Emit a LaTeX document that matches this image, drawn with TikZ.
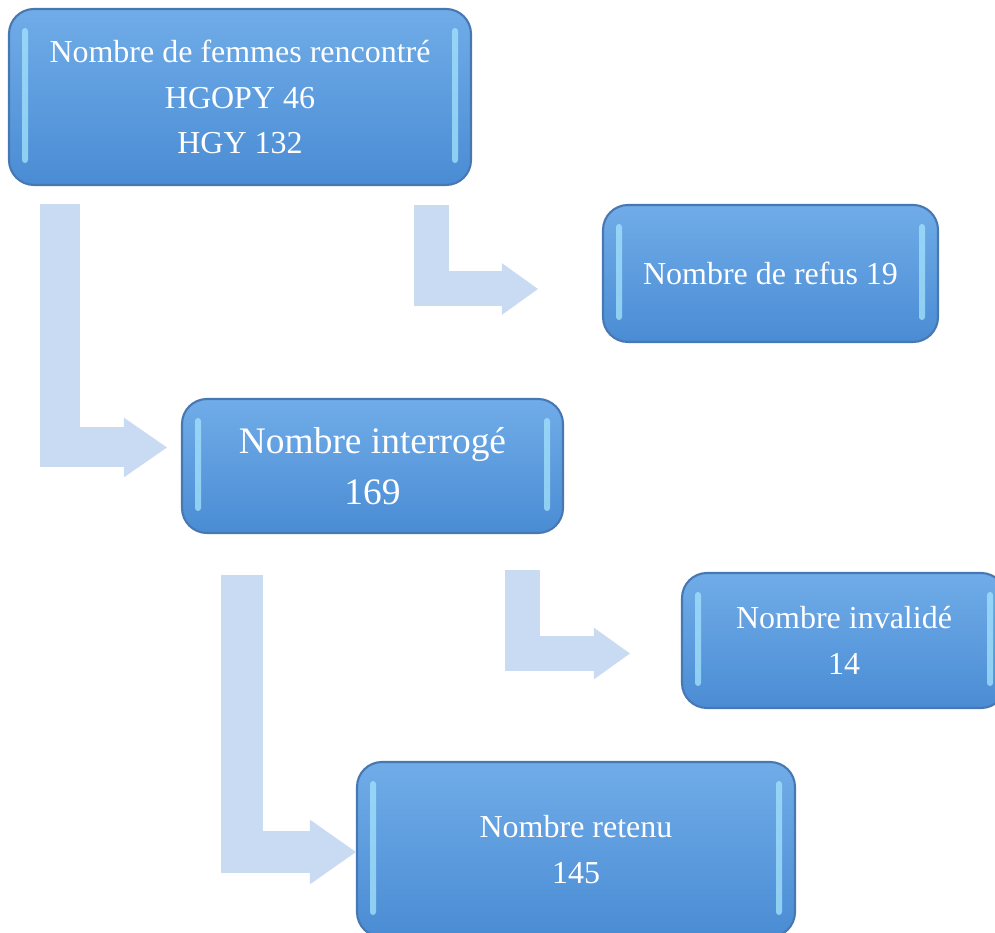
\documentclass[tikz,border=0pt]{standalone}
\usepackage{fontspec}
\setmainfont{Liberation Serif}
\usepackage{xcolor}
\definecolor{boxtop}{RGB}{112,172,232}
\definecolor{boxbottom}{RGB}{74,140,212}
\definecolor{boxline}{RGB}{72,120,178}
\definecolor{boxshine}{RGB}{165,228,252}
\definecolor{arrowblue}{RGB}{201,219,242}
\usetikzlibrary{arrows.meta, positioning, calc}

\tikzset{
  stagebox/.style={draw=boxline, line width=1.2pt, rounded corners=0.5cm,
    top color=boxtop, bottom color=boxbottom, text=white, align=center,
    inner sep=0pt, font=\fontsize{18.2}{25.9}\selectfont,
    path picture={
      \fill[boxshine, opacity=0.75, rounded corners=0.06cm]
        ($(path picture bounding box.north west)+(0.26,-0.38)$) rectangle
        ($(path picture bounding box.south west)+(0.38,0.44)$);
      \fill[boxshine, opacity=0.75, rounded corners=0.06cm]
        ($(path picture bounding box.north east)+(-0.26,-0.38)$) rectangle
        ($(path picture bounding box.south east)+(-0.38,0.44)$);
    }},
  bentarrow/.style={draw=arrowblue, line width=#1, line join=miter},
}

\begin{document}
\begin{tikzpicture}
  % Canvas
  \useasboundingbox (0,0) rectangle (19.9,18.66);
  \clip (0,0) rectangle (19.9,18.66);
  \fill[white] (0,0) rectangle (19.9,18.66);

  % --- Boxes ---
  \node[stagebox, minimum width=9.24cm, minimum height=3.52cm] (rencontre) at (4.80,16.72)
       {Nombre de femmes rencontré\\HGOPY 46\\HGY 132};
  \node[stagebox, minimum width=6.70cm, minimum height=2.74cm] (refus) at (15.41,13.19)
       {Nombre de refus 19};
  \node[stagebox, minimum width=7.62cm, minimum height=2.68cm,
        font=\fontsize{21.3}{29}\selectfont] (interroge) at (7.45,9.34)
       {Nombre interrogé\\169};
  \node[stagebox, minimum width=6.48cm, minimum height=2.70cm] (invalide) at (16.88,5.85)
       {Nombre invalidé\\14};
  \node[stagebox, minimum width=8.76cm, minimum height=3.50cm] (retenu) at (11.52,1.67)
       {Nombre retenu\\145};

  % --- Bent arrows ---
  \draw[bentarrow=0.8cm, -{Triangle[length=0.86cm, width=1.18cm, line width=1.5pt]}]
       ($(rencontre.south west)+(1.05,-0.36)$) |- ($(interroge.west)+(-0.28,0.37)$);
  \draw[bentarrow=0.7cm, -{Triangle[length=0.72cm, width=1.02cm, line width=1.5pt]}]
       ($(rencontre.south east)+(-0.82,-0.38)$) |- ($(refus.west)+(-1.28,-0.31)$);
  \draw[bentarrow=0.7cm, -{Triangle[length=0.72cm, width=1.02cm, line width=1.5pt]}]
       ($(interroge.south east)+(-0.83,-0.72)$) |- ($(invalide.west)+(-1.02,-0.26)$);
  \draw[bentarrow=0.84cm, -{Triangle[length=0.92cm, width=1.28cm, line width=1.5pt]}]
       ($(interroge.south west)+(1.22,-0.82)$) |- ($(retenu.west)+(0,-0.05)$);
\end{tikzpicture}
\end{document}
